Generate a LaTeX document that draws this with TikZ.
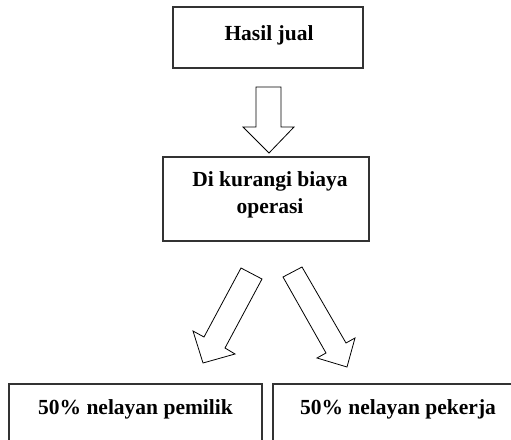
\documentclass[tikz,border=0pt]{standalone}
\usepackage{fontspec}
\setmainfont{Liberation Serif}
\begin{document}
\begin{tikzpicture}[x=1pt,y=-1pt,
  box/.style={draw=black!80, line width=1.1pt, inner sep=0pt},
  lbl/.style={font=\fontsize{21.5}{27}\selectfont\bfseries, align=center},
  blockarrow/.style={draw=black, line width=0.8pt, fill=white, line join=miter}]
\useasboundingbox (0,0) rectangle (511,439);
\clip (0,0) rectangle (511,439);
% boxes
\node[box, minimum width=190pt, minimum height=61pt] (hasil) at (268,37.5) {};
\node[lbl] (hasilt) at (269,35) {Hasil jual};
\node[box, minimum width=206pt, minimum height=84pt] (kurang) at (266,199) {};
\node[lbl] (kurangt) at (270,195) {Di kurangi biaya\\operasi};
\node[box, minimum width=253pt, minimum height=76pt] (pemilik) at (135.5,422) {};
\node[lbl] (pemilikt) at (135.5,409) {50\% nelayan pemilik};
\node[box, minimum width=252pt, minimum height=76pt] (pekerja) at (399,422) {};
\node[lbl] (pekerjat) at (398,409) {50\% nelayan pekerja};
% block arrows
\draw[blockarrow] (256,87) -- (281,87) -- (281,127) -- (294,127) -- (269,153) -- (243,127) -- (256,127) -- cycle;
\draw[blockarrow] (241,268) -- (262,279) -- (225,348) -- (235,354) -- (203,363) -- (193,331) -- (204,337) -- cycle;
\draw[blockarrow] (283,277) -- (302,267) -- (346,343) -- (355,338) -- (347,367) -- (317,358) -- (326,353) -- cycle;
\end{tikzpicture}
\end{document}
